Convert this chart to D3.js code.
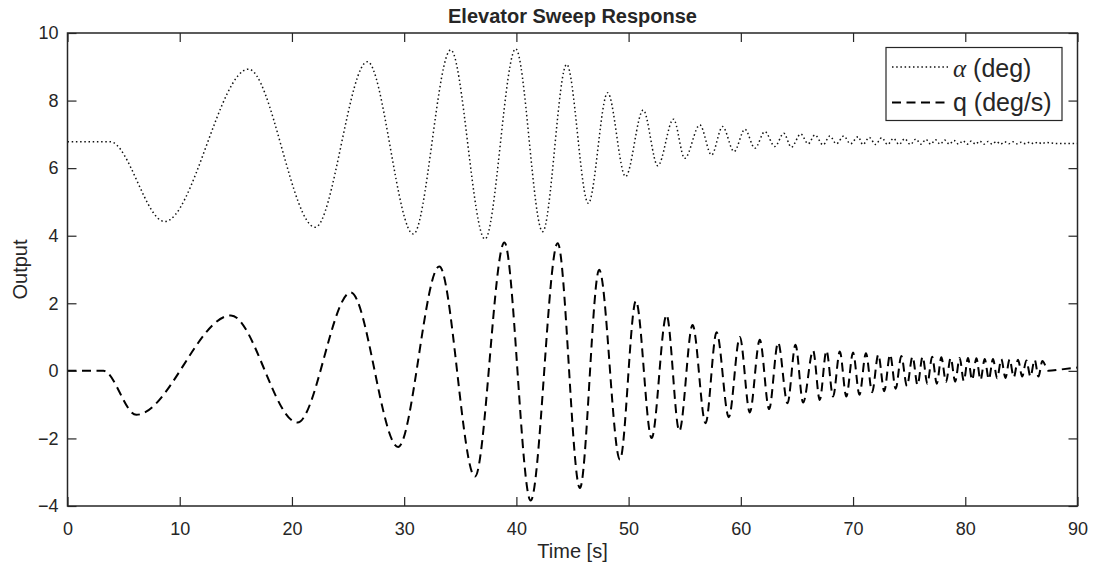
<!DOCTYPE html>
<html>
<head>
<meta charset="utf-8">
<script src="https://cdn.jsdelivr.net/npm/d3@7"></script>
<style>
  html, body { margin: 0; padding: 0; background: #fff; }
  svg { display: block; }
  text { font-family: "Liberation Sans", Arial, Helvetica, sans-serif; fill: #262626; }
</style>
</head>
<body>
<svg id="chart" width="1097" height="569"></svg>
<script>
// ---- data ----
const alphaTime = [0, 3.8, 8.65, 16.13, 22.07, 26.72, 30.82, 34.15, 37.2, 39.94, 42.34, 44.48, 46.41, 48.13, 49.73, 51.3, 52.6, 54.0, 55.0, 56.35, 57.39, 58.37, 59.4, 60.36, 61.25, 62.14, 63.03, 63.83, 64.5, 65.34, 66.0, 66.6, 67.33, 67.93, 68.52, 69.17, 69.77, 70.45,
  70.87, 71.45, 72.0, 72.55, 73.08, 73.6, 74.1, 74.6, 75.1, 75.6, 76.05, 76.5, 76.92, 77.35, 77.76, 78.17, 78.58, 79.0, 79.4, 79.8, 80.17, 80.54, 80.91, 81.29, 81.66, 82.03, 82.4, 82.77, 83.14, 83.51, 83.88, 84.25, 84.62, 85.0, 85.37, 85.74, 86.11, 86.48, 86.82, 87.17, 88.2, 90];
const alphaValues = [6.78, 6.78, 4.42, 8.93, 4.25, 9.15, 4.05, 9.50, 3.90, 9.53, 4.12, 9.07, 4.96, 8.23, 5.75, 7.72, 6.07, 7.45, 6.29, 7.28, 6.39, 7.23, 6.49, 7.15, 6.59, 7.08, 6.64, 7.03, 6.62, 7.01, 6.72, 6.98, 6.69, 6.95, 6.72, 6.95, 6.72, 6.93,
  6.70, 6.91, 6.70, 6.90, 6.70, 6.88, 6.70, 6.87, 6.70, 6.86, 6.71, 6.85, 6.71, 6.84, 6.71, 6.83, 6.71, 6.82, 6.71, 6.81, 6.71, 6.80, 6.71, 6.80, 6.71, 6.79, 6.71, 6.79, 6.71, 6.78, 6.72, 6.78, 6.72, 6.77, 6.72, 6.77, 6.72, 6.77, 6.72, 6.76, 6.73, 6.73];

const qTime = [0, 3.2, 6.13, 14.56, 20.49, 25.24, 29.46, 33.13, 36.31, 38.93, 41.27, 43.68, 45.66, 47.38, 49.23, 50.65, 52.05, 53.38, 54.52, 55.7, 56.86, 57.84, 58.93, 59.91, 60.8, 61.69, 62.52, 63.32, 64.16, 64.87, 65.55,
  66.44, 67.03, 67.63, 68.22, 68.82, 69.4, 70.0, 70.57, 71.15, 71.7, 72.25, 72.78, 73.3, 73.8, 74.3, 74.8, 75.3, 75.75, 76.2, 76.62, 77.05, 77.46, 77.87, 78.28, 78.7, 79.1, 79.5, 79.87, 80.24, 80.61, 80.99, 81.36, 81.73, 82.1, 82.47, 82.84, 83.21, 83.58, 83.95, 84.32, 84.7, 85.07, 85.44, 85.81, 86.18, 86.52, 86.87, 87.4, 88.5, 90];
const qValues = [0, 0, -1.30, 1.64, -1.53, 2.32, -2.25, 3.09, -3.13, 3.80, -3.84, 3.78, -3.47, 2.99, -2.63, 2.07, -1.99, 1.65, -1.78, 1.36, -1.55, 1.14, -1.37, 1.00, -1.23, 0.92, -1.13, 0.84, -0.96, 0.77, -0.94,
  0.60, -0.86, 0.60, -0.76, 0.57, -0.76, 0.54, -0.71, 0.52, -0.63, 0.48, -0.60, 0.48, -0.53, 0.44, -0.45, 0.42, -0.42, 0.42, -0.38, 0.42, -0.38, 0.40, -0.33, 0.38, -0.32, 0.38, -0.30, 0.38, -0.27, 0.37, -0.27, 0.35, -0.25, 0.35, -0.22, 0.35, -0.21, 0.34, -0.19, 0.33, -0.17, 0.31, -0.17, 0.33, -0.17, 0.29, 0.0, 0.04, 0.10];

const xTicks = [0, 10, 20, 30, 40, 50, 60, 70, 80, 90];
const yTicks = [-4, -2, 0, 2, 4, 6, 8, 10];
const seriesNames = ["(deg)", "q (deg/s)"];
const titleText = "Elevator Sweep Response";
const xLabel = "Time [s]";
const yLabel = "Output";

// ---- layout ----
const L = 67.5, R = 1077.5, T = 33, B = 506;
const axisColor = "#262626";

const svg = d3.select("#chart");
const x = d3.scaleLinear().domain([0, 90]).range([L, R]);
const y = d3.scaleLinear().domain([-4, 10]).range([B, T]);

// curves
const line = d3.line().x(d => x(d[0])).y(d => y(d[1])).curve(d3.curveMonotoneX);
const alphaData = alphaTime.map((t, i) => [t, alphaValues[i]]);
const qData = qTime.map((t, i) => [t, qValues[i]]);

const plot = svg.append("g");
plot.append("path").datum(alphaData).attr("d", line)
  .attr("fill", "none").attr("stroke", "#111").attr("stroke-width", 1.5)
  .attr("stroke-dasharray", "1.5,2.7");
plot.append("path").datum(qData).attr("d", line)
  .attr("fill", "none").attr("stroke", "#000").attr("stroke-width", 2)
  .attr("stroke-dasharray", "9,5.5");

// axes
function styleAxis(g) {
  g.select(".domain").remove();
  g.selectAll(".tick line").attr("stroke", axisColor).attr("stroke-width", 1.2);
  g.selectAll(".tick text").attr("fill", axisColor).style("font-size", "18px")
    .style("font-family", '"Liberation Sans", Arial, sans-serif');
}
svg.append("g").attr("transform", `translate(0,${B})`)
  .call(d3.axisBottom(x).tickValues(xTicks).tickSize(-9).tickPadding(16).tickFormat(d3.format("d")))
  .call(styleAxis);
svg.append("g").attr("transform", `translate(0,${T})`)
  .call(d3.axisTop(x).tickValues(xTicks).tickSize(-9).tickFormat(""))
  .call(styleAxis);
svg.append("g").attr("transform", `translate(${L},0)`)
  .call(d3.axisLeft(y).tickValues(yTicks).tickSize(-9).tickPadding(9).tickFormat(d3.format("d")))
  .call(styleAxis);
svg.append("g").attr("transform", `translate(${R},0)`)
  .call(d3.axisRight(y).tickValues(yTicks).tickSize(-9).tickFormat(""))
  .call(styleAxis);

// box
svg.append("rect").attr("x", L).attr("y", T).attr("width", R - L).attr("height", B - T)
  .attr("fill", "none").attr("stroke", axisColor).attr("stroke-width", 1.5);

// title and labels
svg.append("text").attr("x", (L + R) / 2).attr("y", 23).attr("text-anchor", "middle")
  .style("font-size", "20px").style("font-weight", "bold").attr("fill", "#000").text(titleText);
svg.append("text").attr("x", (L + R) / 2).attr("y", 558).attr("text-anchor", "middle")
  .style("font-size", "20px").text(xLabel);
svg.append("text").attr("transform", `translate(27,${(T + B) / 2}) rotate(-90)`).attr("text-anchor", "middle")
  .style("font-size", "20px").text(yLabel);

// legend
const lg = svg.append("g");
lg.append("rect").attr("x", 886).attr("y", 47.5).attr("width", 176).attr("height", 73)
  .attr("fill", "#fff").attr("stroke", axisColor).attr("stroke-width", 1.2);
lg.append("line").attr("x1", 892).attr("x2", 948).attr("y1", 67).attr("y2", 67)
  .attr("stroke", "#111").attr("stroke-width", 1.5).attr("stroke-dasharray", "1.5,2.7");
lg.append("line").attr("x1", 892).attr("x2", 948).attr("y1", 102.5).attr("y2", 102.5)
  .attr("stroke", "#000").attr("stroke-width", 2).attr("stroke-dasharray", "9,5.5");
const t1 = lg.append("text").attr("x", 953).attr("y", 77).style("font-size", "25px").attr("fill", "#000");
t1.append("tspan").style("font-family", '"Liberation Serif", "DejaVu Serif", serif').style("font-style", "italic").text("α");
t1.append("tspan").text(" " + seriesNames[0]);
lg.append("text").attr("x", 953).attr("y", 111).style("font-size", "25px").attr("fill", "#000").text(seriesNames[1]);
</script>
</body>
</html>
